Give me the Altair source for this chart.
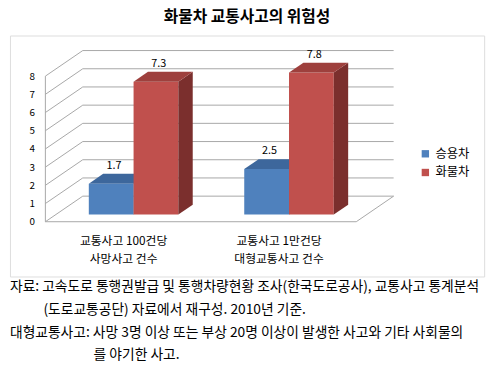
import json
import altair as alt
import pandas as pd

# ---------------- data ----------------
TITLE = "화물차 교통사고의 위험성"
CATEGORIES = [["교통사고 100건당", "사망사고 건수"], ["교통사고 1만건당", "대형교통사고 건수"]]
SERIES = ["승용차", "화물차"]
VALUES_CAR = [1.7, 2.5]
VALUES_TRUCK = [7.3, 7.8]
Y_TICKS = [0, 1, 2, 3, 4, 5, 6, 7, 8]
FOOTNOTES = [
    "자료: 고속도로 통행권발급 및 통행차량현황 조사(한국도로공사), 교통사고 통계분석",
    "(도로교통공단) 자료에서 재구성. 2010년 기준.",
    "대형교통사고: 사망 3명 이상 또는 부상 20명 이상이 발생한 사고와 기타 사회물의",
    "를 야기한 사고.",
]

# ---------------- style ----------------
FONT = "Noto Sans CJK KR"
FRONT = {"승용차": "#4F81BD", "화물차": "#C0504D"}
TOP = {"승용차": "#3D679C", "화물차": "#9E403D"}
SIDE = {"승용차": "#30578A", "화물차": "#7B2F2D"}
GRID = "#A6A6A6"

W_PX, H_PX = 482, 245          # plot view (= the framed box)
UNIT_PX = 158                  # px per category slot
VAL_PX = 18.5                  # px per value unit
X0_PX, Y0_PX = 36, 189.3       # front-left floor corner inside the view
DX, DY = 38 / UNIT_PX, 26 / VAL_PX   # full depth offset (x in slots, y in values)
D_FRONT, D_THICK = 0.28, 0.385       # bar position / thickness within depth
BAR_W = 0.288

fx, fy = D_FRONT * DX, D_FRONT * DY
bx, by = D_THICK * DX, D_THICK * DY

xs = alt.Scale(domain=[-X0_PX / UNIT_PX, (W_PX - X0_PX) / UNIT_PX], nice=False, zero=False)
ys = alt.Scale(domain=[(Y0_PX - H_PX) / VAL_PX, Y0_PX / VAL_PX], nice=False, zero=False)

label_expr = "datum.value < 1 ? " + json.dumps(CATEGORIES[0], ensure_ascii=False) + " : " + json.dumps(CATEGORIES[1], ensure_ascii=False)
x_axis = alt.Axis(values=[0.5, 1.5], labelExpr=label_expr, orient="bottom", offset=-45,
                  domain=False, ticks=False, grid=False, title=None, labelPadding=3,
                  labelFont=FONT, labelFontSize=12, labelColor="#000000",
                  labelLineHeight=19, labelFlush=False, labelOverlap=False)
y_axis = alt.Axis(values=Y_TICKS, format="d", orient="left", offset=-29, domain=False,
                  ticks=False, grid=False, title=None, labelPadding=4,
                  labelFont=FONT, labelFontSize=10, labelColor="#000000")


def X(f):
    return alt.X(f, type="quantitative", scale=xs, axis=x_axis, stack=None)


def Y(f):
    return alt.Y(f, type="quantitative", scale=ys, axis=y_axis, stack=None)


# ---------------- geometry tables ----------------
bars, sides, tops = [], [], []
for i in range(len(CATEGORIES)):
    c = i + 0.5
    for j, (s, vals) in enumerate([(SERIES[0], VALUES_CAR), (SERIES[1], VALUES_TRUCK)]):
        v = vals[i]
        xl = c + (j - 1) * BAR_W + fx
        xr = xl + BAR_W
        base, top = fy, fy + v
        key = f"{i}-{j}"
        bars.append(dict(series=s, xl=xl, xr=xr, base=base, top=top, v=v,
                         lx=(xl + xr) / 2 + bx * 0.2, ly=top + by))
        sides += [dict(series=s, key=key, x=xr, lo=base, hi=top),
                  dict(series=s, key=key, x=xr + bx, lo=base + by, hi=top + by)]
        tops += [dict(series=s, key=key, y=top, xa=xl, xb=xr),
                 dict(series=s, key=key, y=top + by, xa=xl + bx, xb=xr + bx)]
bars, sides, tops = pd.DataFrame(bars), pd.DataFrame(sides), pd.DataFrame(tops)

n_cat = len(CATEGORIES)
lines = []
for t in Y_TICKS:
    lines.append(dict(x1=DX, x2=n_cat + DX, y1=t + DY, y2=t + DY))   # back wall
    lines.append(dict(x1=0, x2=DX, y1=t, y2=t + DY))                 # left wall
lines.append(dict(x1=0, x2=0, y1=0, y2=max(Y_TICKS)))               # front-left edge
lines.append(dict(x1=0, x2=n_cat, y1=0, y2=0))                      # floor front edge
lines.append(dict(x1=n_cat, x2=n_cat + DX, y1=0, y2=DY))            # floor right edge
lines = pd.DataFrame(lines)

# ---------------- layers ----------------
grid = alt.Chart(lines).mark_rule(color=GRID, strokeWidth=1).encode(
    x=X("x1"), x2="x2", y=Y("y1"), y2="y2")


def side_layer(s):
    return alt.Chart(sides[sides.series == s]).mark_area(color=SIDE[s], opacity=1).encode(
        x=X("x"), y=Y("lo"), y2="hi", detail="key:N")


def top_layer(s):
    return alt.Chart(tops[tops.series == s]).mark_area(orient="horizontal", color=TOP[s], opacity=1).encode(
        y=Y("y"), x=X("xa"), x2="xb", detail="key:N")


fronts = alt.Chart(bars).mark_rect().encode(
    x=X("xl"), x2="xr", y=Y("base"), y2="top",
    color=alt.Color("series:N", scale=alt.Scale(domain=SERIES, range=[FRONT[s] for s in SERIES]),
                    legend=alt.Legend(title=None, orient="none", legendX=416, legendY=114,
                                      symbolType="square", symbolSize=56, symbolStrokeWidth=0,
                                      labelFont=FONT, labelFontSize=12.5, labelColor="#000000",
                                      rowPadding=6, padding=0, labelOffset=4)))

value_labels = alt.Chart(bars).mark_text(font=FONT, fontSize=11, baseline="alphabetic",
                                         dy=-5, color="#000000").encode(
    x=X("lx"), y=Y("ly"), text=alt.Text("v:Q", format=".1f"))

FOOT_POS = [(0, 255.5), (34, 278.8), (0, 302), (85, 325.3)]
foot_layers = [
    alt.Chart(pd.DataFrame({"t": [txt]})).mark_text(
        font=FONT, fontSize=14, align="left", baseline="middle", color="#000000").encode(
        x=alt.value(px), y=alt.value(py), text="t:N")
    for txt, (px, py) in zip(FOOTNOTES, FOOT_POS)
]

chart = alt.layer(
    grid,
    top_layer(SERIES[0]), side_layer(SERIES[0]),
    fronts,
    side_layer(SERIES[1]), top_layer(SERIES[1]),
    value_labels,
    *foot_layers,
).properties(
    width=W_PX, height=H_PX,
    title=alt.TitleParams(TITLE, font=FONT, fontSize=16, fontWeight="bold", anchor="middle",
                          offset=11, color="#000000"),
    autosize=alt.AutoSizeParams(type="none"),
    padding={"left": 2, "top": 25, "right": 9, "bottom": 88},
).configure_view(stroke="#BFBFBF", strokeWidth=1.5).configure(background="white")

chart.save("out.html", embed_options={"renderer": "svg", "actions": False})
